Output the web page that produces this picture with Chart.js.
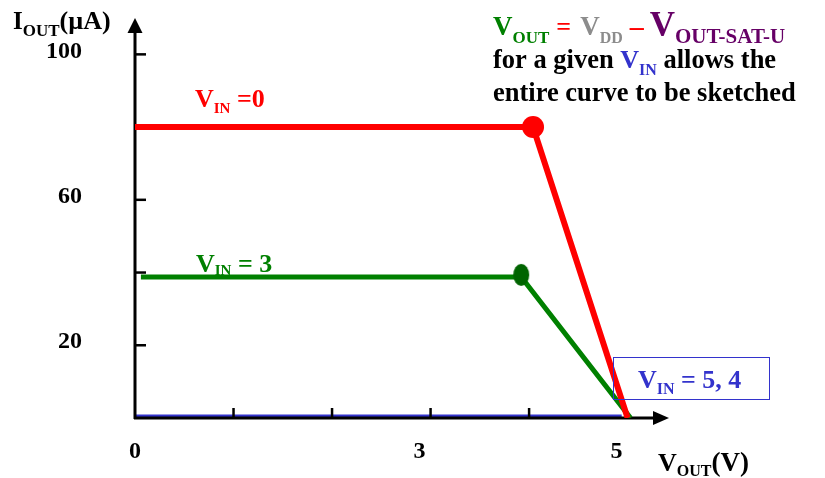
<!DOCTYPE html>
<html>
<head>
<meta charset="utf-8">
<script src="https://cdn.jsdelivr.net/npm/chart.js@4"></script>
<style>
  body { margin: 0; background: #fff; }
  .ChartBox { width: 825px; height: 478px; }
</style>
</head>
<body>
<div class="ChartBox"><canvas id="chart"></canvas></div>
<script>
// series (x = VOUT in V, y = IOUT in uA)
const vin0X = [0, 4.04, 5.0];
const vin0Y = [80, 80, 0];
const vin3X = [0.06, 3.92, 5.03];
const vin3Y = [38.8, 38.8, 0];
const vin54X = [-0.06, 4.94];
const vin54Y = [0, 0];

const xTickMarks = [1, 2, 3, 4];
const yTickMarks = [20, 40, 60, 80, 100];
const xTickLabels = ['0', '3', '5'];
const xTickValues = [0, 3, 5];
const yTickLabels = ['100', '60', '20'];
const yTickValues = [100, 60, 20];

const SERIF = '"Liberation Serif", "Times New Roman", serif';
const RED = '#ff0000';
const GREEN = '#008000';
const BLUE = '#3333cc';
const PURPLE = '#660066';
const GRAY = '#8c8c8c';

const toPoints = (xs, ys) => xs.map((x, i) => ({ x, y: ys[i] }));

// green knee marker is a slightly tall ellipse
const greenDot = document.createElement('canvas');
greenDot.width = 18;
greenDot.height = 28;
(function () {
    const c = greenDot.getContext('2d');
    c.fillStyle = '#006400';
    c.beginPath();
    c.ellipse(9, 12, 8, 11, 0, 0, Math.PI * 2);
    c.fill();
})();

// draws a run of text pieces: [text, size, color, baselineShift]
function richText(ctx, x, y, parts) {
    ctx.textAlign = 'left';
    ctx.textBaseline = 'alphabetic';
    parts.forEach(p => {
        ctx.font = 'bold ' + p[1] + 'px ' + SERIF;
        ctx.fillStyle = p[2];
        ctx.fillText(p[0], x, y + (p[3] || 0));
        x += ctx.measureText(p[0]).width;
    });
    return x;
}

const axesPlugin = {
    id: 'axesPlugin',
    afterDatasetDraw(chart, args) {
        if (args.index !== 2) return;
        const ctx = chart.ctx;
        const xs = chart.scales.x;
        const ys = chart.scales.y;
        const x0 = xs.getPixelForValue(0);
        const y0 = ys.getPixelForValue(0);
        const area = chart.chartArea;
        ctx.save();
        ctx.strokeStyle = '#000';
        ctx.fillStyle = '#000';
        ctx.lineWidth = 3;
        // y axis + arrow
        ctx.beginPath();
        ctx.moveTo(x0, y0 + 1);
        ctx.lineTo(x0, area.top + 12);
        ctx.stroke();
        ctx.beginPath();
        ctx.moveTo(x0, area.top);
        ctx.lineTo(x0 - 7.5, area.top + 15);
        ctx.lineTo(x0 + 7.5, area.top + 15);
        ctx.closePath();
        ctx.fill();
        // x axis + arrow
        ctx.beginPath();
        ctx.moveTo(x0 - 1, y0);
        ctx.lineTo(area.right - 12, y0);
        ctx.stroke();
        ctx.beginPath();
        ctx.moveTo(area.right, y0);
        ctx.lineTo(area.right - 16, y0 - 7);
        ctx.lineTo(area.right - 16, y0 + 7);
        ctx.closePath();
        ctx.fill();
        // tick marks point into the plot
        ctx.lineWidth = 2.5;
        yTickMarks.forEach(v => {
            const py = ys.getPixelForValue(v);
            ctx.beginPath();
            ctx.moveTo(x0, py);
            ctx.lineTo(x0 + 11, py);
            ctx.stroke();
        });
        xTickMarks.forEach(v => {
            const px = xs.getPixelForValue(v);
            ctx.beginPath();
            ctx.moveTo(px, y0);
            ctx.lineTo(px, y0 - 10);
            ctx.stroke();
        });
        ctx.restore();
    },
    afterDraw(chart) {
        const ctx = chart.ctx;
        const xs = chart.scales.x;
        const ys = chart.scales.y;
        const y0 = ys.getPixelForValue(0);
        ctx.save();
        ctx.font = 'bold 24px ' + SERIF;
        ctx.fillStyle = '#000';
        ctx.textBaseline = 'middle';
        ctx.textAlign = 'right';
        yTickLabels.forEach((t, i) => {
            ctx.fillText(t, 82, ys.getPixelForValue(yTickValues[i]) - 3);
        });
        ctx.textAlign = 'center';
        xTickLabels.forEach((t, i) => {
            const v = xTickValues[i];
            ctx.fillText(t, xs.getPixelForValue(v) - (v > 0 ? 11 : 0), y0 + 34);
        });

        // axis titles
        richText(ctx, 13, 29, [['I', 25, '#000'], ['OUT', 17, '#000', 7], ['(\u00b5A)', 26, '#000']]);
        richText(ctx, 658, 471, [['V', 26, '#000'], ['OUT', 16, '#000', 5], ['(V)', 27, '#000']]);

        // curve labels
        richText(ctx, 195, 107, [['V', 26, RED], ['IN', 15, RED, 6], [' =0', 26, RED]]);
        richText(ctx, 196, 272, [['V', 26, GREEN], ['IN', 15, GREEN, 3], [' = 3', 26, GREEN]]);

        // boxed label for VIN = 5, 4
        ctx.strokeStyle = BLUE;
        ctx.lineWidth = 1;
        ctx.strokeRect(613.5, 357.5, 156, 42);
        richText(ctx, 638, 388, [['V', 26, BLUE], ['IN', 16, BLUE, 6], [' = 5, 4', 26, BLUE]]);

        // explanation block at the top right
        let x = richText(ctx, 493, 35, [['V', 27, GREEN], ['OUT', 17, GREEN, 8]]);
        x = richText(ctx, x + 7, 35, [['=', 26, RED]]);
        x = richText(ctx, x + 9, 35, [['V', 27, GRAY], ['DD', 16, GRAY, 8]]);
        x = richText(ctx, x + 7, 35, [['\u2013', 28, RED]]);
        richText(ctx, x + 6, 36, [['V', 35, PURPLE], ['OUT-SAT-U', 21, PURPLE, 7]]);
        x = richText(ctx, 493, 68, [['for a given ', 26.5, '#000'], ['V', 26, BLUE], ['IN', 16, BLUE, 7]]);
        richText(ctx, x, 68, [[' allows the', 26.5, '#000']]);
        richText(ctx, 493, 101, [['entire curve to be sketched', 26.5, '#000']]);
        ctx.restore();
    }
};

new Chart(document.getElementById('chart').getContext('2d'), {
    type: 'line',
    data: {
        datasets: [{
            label: 'VIN = 0',
            data: toPoints(vin0X, vin0Y),
            borderColor: RED,
            backgroundColor: RED,
            borderWidth: 6,
            pointRadius: [0, 11, 0],
            pointBorderWidth: 0,
            fill: false
        }, {
            label: 'VIN = 3',
            data: toPoints(vin3X, vin3Y),
            borderColor: GREEN,
            backgroundColor: GREEN,
            borderWidth: 5,
            pointRadius: [0, 9, 0],
            pointStyle: c => (c.dataIndex === 1 ? greenDot : 'circle'),
            pointBorderWidth: 0,
            fill: false
        }, {
            label: 'VIN = 5, 4',
            data: toPoints(vin54X, vin54Y),
            borderColor: BLUE,
            borderWidth: 7,
            pointRadius: 0,
            fill: false
        }]
    },
    options: {
        responsive: true,
        maintainAspectRatio: false,
        animation: false,
        events: [],
        layout: { padding: { left: 135, top: 18, right: 156, bottom: 60 } },
        plugins: { legend: { display: false }, tooltip: { enabled: false } },
        elements: { line: { tension: 0, borderCapStyle: 'butt', borderJoinStyle: 'miter' } },
        scales: {
            x: { type: 'linear', display: false, min: 0, max: 5.42 },
            y: { type: 'linear', display: false, min: 0, max: 110 }
        }
    },
    plugins: [axesPlugin]
});
</script>
</body>
</html>
